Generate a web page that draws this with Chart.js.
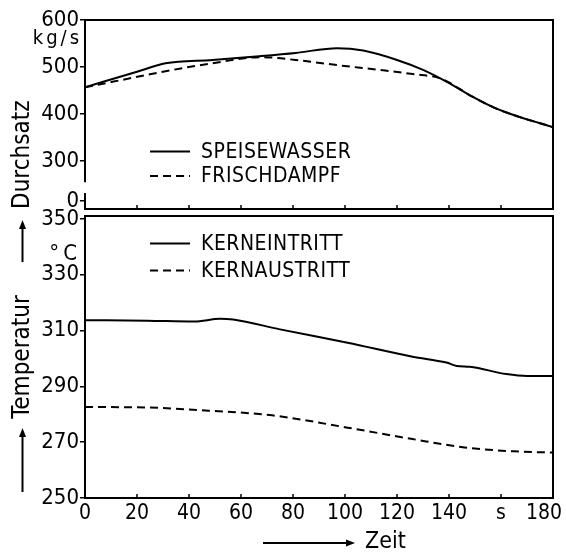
<!DOCTYPE html>
<html><head><meta charset="utf-8">
<style>
html,body{margin:0;padding:0;background:#fff;overflow:hidden;width:566px;height:556px}
#wrap{position:relative;width:566px;height:556px;background:#fff}
canvas{position:absolute;left:0}
#c1{top:0}
#c2{top:200px}
</style>
<script src="https://cdn.jsdelivr.net/npm/chart.js@4/dist/chart.umd.min.js"></script>
</head><body>
<div id="wrap">
<canvas id="c1" width="566" height="216"></canvas>
<canvas id="c2" width="566" height="356"></canvas>
</div>
<script>
const FONT = "'DejaVu Sans Condensed', 'DejaVu Sans', sans-serif";
const TITLE_FONT = "'DejaVu Sans Condensed', 'DejaVu Sans', sans-serif";

// tick values and labels
const timeTicks = [0, 20, 40, 60, 80, 100, 120, 140, 160, 180];
const timeTickLabels = ['0', '20', '40', '60', '80', '100', '120', '140', 's', '180   '];
const flowTicks = [215, 300, 400, 500, 600];
const flowTickLabels = ['0', '300', '400', '500', '600'];
const flowBreak = [232, 255];
const tempTicks = [250, 270, 290, 310, 330, 350];
const tempTickLabels = ['250', '270', '290', '310', '330', '350'];

// Durchsatz (kg/s)
const speiseT = [0, 20, 31, 49, 67, 81, 97, 107, 120, 130, 139, 149, 158, 167, 180];
const speiseV = [457, 490, 508, 515, 523, 530, 540, 535, 515, 494, 469, 437, 412, 394, 372];
const frischT = [0, 11, 30, 49, 68, 81, 97, 113, 126, 137, 149, 158, 167, 180];
const frischV = [457, 469, 490, 508, 521, 515, 504, 494, 485, 475, 437, 412, 394, 372];

// Temperatur (°C)
const eintrittT = [0, 24, 42, 52, 57, 75, 101, 126, 139, 143, 148, 162, 170, 180];
const eintrittV = [313.7, 313.5, 313.2, 314.2, 313.9, 310.4, 305.6, 300.6, 298.5, 297.3, 297.0, 294.4, 293.7, 293.7];
const austrittT = [0, 24, 49, 72, 101, 126, 146, 165, 180];
const austrittV = [282.6, 282.4, 281.2, 279.6, 275.2, 271.1, 268.1, 266.7, 266.3];

const pts = (t, v) => t.map((x, i) => ({x: x, y: v[i]}));

function lineDs(label, data, dashed) {
  return {
    label: label, data: data, borderColor: '#000', borderWidth: 2,
    borderDash: dashed ? [8, 5] : [], pointRadius: 0, fill: false,
    cubicInterpolationMode: 'monotone'
  };
}

function arrow(ctx, x1, y1, x2, y2) {
  const ang = Math.atan2(y2 - y1, x2 - x1);
  const L = 9, W = 3.5;
  ctx.beginPath();
  ctx.moveTo(x1, y1);
  ctx.lineTo(x2 - L * Math.cos(ang), y2 - L * Math.sin(ang));
  ctx.stroke();
  ctx.beginPath();
  ctx.moveTo(x2, y2);
  ctx.lineTo(x2 - L * Math.cos(ang) + W * Math.sin(ang), y2 - L * Math.sin(ang) - W * Math.cos(ang));
  ctx.lineTo(x2 - L * Math.cos(ang) - W * Math.sin(ang), y2 - L * Math.sin(ang) + W * Math.cos(ang));
  ctx.closePath();
  ctx.fill();
}

function drawLegend(chart, rows) {
  const {ctx, chartArea: a} = chart;
  ctx.save();
  ctx.strokeStyle = '#000'; ctx.fillStyle = '#000'; ctx.lineWidth = 2;
  ctx.font = '21px ' + FONT;
  ctx.textBaseline = 'middle'; ctx.textAlign = 'left';
  try { ctx.letterSpacing = '0.5px'; } catch (e) {}
  chart.data.datasets.forEach((ds, i) => {
    const y = a.top + rows[i];
    ctx.setLineDash(ds.borderDash || []);
    ctx.beginPath();
    ctx.moveTo(a.left + 65, y); ctx.lineTo(a.left + 105, y);
    ctx.stroke();
    ctx.setLineDash([]);
    ctx.fillText(ds.label, a.left + 116, y + 1);
  });
  ctx.restore();
}

function xTicksInward(chart) {
  const {ctx, chartArea: a} = chart;
  const x = chart.scales.x;
  ctx.beginPath();
  timeTicks.forEach(t => {
    const px = x.getPixelForValue(t);
    ctx.moveTo(px, a.bottom); ctx.lineTo(px, a.bottom - 4);
  });
  ctx.stroke();
}

const topDeco = {
  id: 'topDeco',
  afterDraw(chart) {
    const {ctx, chartArea: a} = chart;
    const y = chart.scales.y;
    ctx.save();
    ctx.strokeStyle = '#000'; ctx.fillStyle = '#000'; ctx.lineWidth = 2;
    ctx.beginPath();
    ctx.moveTo(a.left, y.getPixelForValue(flowBreak[1]));
    ctx.lineTo(a.left, a.top);
    ctx.lineTo(a.right, a.top);
    ctx.lineTo(a.right, a.bottom);
    ctx.lineTo(a.left, a.bottom);
    ctx.lineTo(a.left, y.getPixelForValue(flowBreak[0]));
    ctx.stroke();
    ctx.lineWidth = 1.5;
    xTicksInward(chart);
    // unit
    ctx.font = '20px ' + FONT;
    ctx.textAlign = 'right'; ctx.textBaseline = 'alphabetic';
    try { ctx.letterSpacing = '3px'; } catch (e) {}
    ctx.fillText('kg/s', a.left - 3, a.top + 24);
    ctx.restore();
    drawLegend(chart, [131.5, 156]);
  }
};

const botDeco = {
  id: 'botDeco',
  afterDraw(chart) {
    const {ctx, chartArea: a} = chart;
    ctx.save();
    ctx.strokeStyle = '#000'; ctx.fillStyle = '#000'; ctx.lineWidth = 2;
    ctx.strokeRect(a.left, a.top, a.right - a.left, a.bottom - a.top);
    ctx.lineWidth = 1.5;
    xTicksInward(chart);
    // unit
    ctx.font = '22px ' + FONT;
    ctx.textAlign = 'right'; ctx.textBaseline = 'alphabetic';
    try { ctx.letterSpacing = '4px'; } catch (e) {}
    ctx.fillText('°C', a.left - 4, a.top + 44);
    try { ctx.letterSpacing = '0px'; } catch (e) {}
    // arrows beside the y title
    ctx.lineWidth = 2;
    arrow(ctx, 22.5, a.top + 46, 22.5, a.top + 4);
    arrow(ctx, 22.5, a.top + 276, 22.5, a.top + 212);
    // Zeit
    const yz = a.bottom + 45;
    arrow(ctx, a.left + 178, yz, a.left + 270, yz);
    ctx.font = '23px ' + FONT;
    ctx.textAlign = 'left'; ctx.textBaseline = 'middle';
    ctx.fillText('Zeit', a.left + 280, yz - 1);
    ctx.restore();
    drawLegend(chart, [27.5, 54.5]);
  }
};

Chart.defaults.animation = false;
Chart.defaults.color = '#000';

new Chart(document.getElementById('c1'), {
  type: 'line',
  data: { datasets: [
    lineDs('SPEISEWASSER', pts(speiseT, speiseV), false),
    lineDs('FRISCHDAMPF', pts(frischT, frischV), true)
  ]},
  options: {
    responsive: false,
    layout: { autoPadding: false, padding: { left: 0, right: 13, top: 20, bottom: 7 } },
    plugins: { legend: { display: false }, tooltip: { enabled: false } },
    scales: {
      x: { type: 'linear', min: 0, max: 180, display: false },
      y: {
        type: 'linear', min: 198, max: 600,
        afterBuildTicks: s => { s.ticks = flowTicks.map(v => ({value: v})); },
        afterFit: s => { s.width = 85; s.paddingTop = 0; s.paddingBottom = 0; },
        ticks: { callback: (v, i) => flowTickLabels[i], font: { family: FONT, size: 22 }, color: '#000', padding: 1 },
        grid: { drawOnChartArea: false, tickLength: 5, color: '#000', lineWidth: 1.5 },
        border: { display: false },
        title: { display: true, text: 'Durchsatz', align: 'start', color: '#000',
                 font: { family: TITLE_FONT, size: 24 }, padding: { top: 8, bottom: 0 } }
      }
    }
  },
  plugins: [topDeco]
});

new Chart(document.getElementById('c2'), {
  type: 'line',
  data: { datasets: [
    lineDs('KERNEINTRITT', pts(eintrittT, eintrittV), false),
    lineDs('KERNAUSTRITT', pts(austrittT, austrittV), true)
  ]},
  options: {
    responsive: false,
    layout: { autoPadding: false, padding: { left: 0, right: 13, top: 16, bottom: 0 } },
    plugins: { legend: { display: false }, tooltip: { enabled: false } },
    scales: {
      x: {
        type: 'linear', min: 0, max: 180,
        afterBuildTicks: s => { s.ticks = timeTicks.map(v => ({value: v})); },
        afterFit: s => { s.height = 58; s.paddingLeft = 0; s.paddingRight = 0; },
        ticks: { callback: (v, i) => timeTickLabels[i], font: { family: FONT, size: 21 }, color: '#000',
                 padding: 3, maxRotation: 0, autoSkip: false },
        grid: { display: false, drawOnChartArea: false, drawTicks: false, tickLength: 0 },
        border: { display: false }
      },
      y: {
        type: 'linear', min: 250, max: 351,
        afterBuildTicks: s => { s.ticks = tempTicks.map(v => ({value: v})); },
        afterFit: s => { s.width = 85; s.paddingTop = 0; s.paddingBottom = 0; },
        ticks: { callback: (v, i) => tempTickLabels[i], font: { family: FONT, size: 22 }, color: '#000', padding: 1 },
        grid: { drawOnChartArea: false, tickLength: 5, color: '#000', lineWidth: 1.5 },
        border: { display: false },
        title: { display: true, text: 'Temperatur', align: 'center', color: '#000',
                 font: { family: TITLE_FONT, size: 24 }, padding: { top: 8, bottom: 0 } }
      }
    }
  },
  plugins: [botDeco]
});
</script>
</body></html>
